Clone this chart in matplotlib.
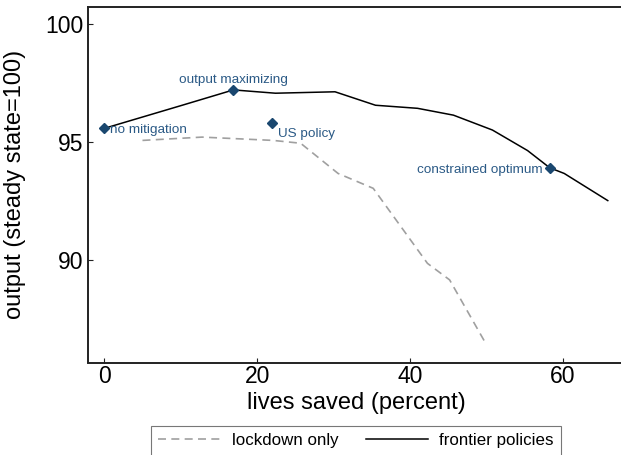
import matplotlib
matplotlib.use('Agg')
import matplotlib.pyplot as plt

plt.rcParams['font.family'] = ['Liberation Sans', 'DejaVu Sans']

# frontier policies (solid black)
frontier_x = [0.0, 10.2, 16.9, 22.4, 30.2, 35.5, 41.0, 45.7, 50.8, 55.4, 58.3, 60.2, 65.9]
frontier_y = [95.59, 96.57, 97.22, 97.08, 97.14, 96.57, 96.44, 96.15, 95.52, 94.65, 93.92, 93.68, 92.53]

# lockdown only (dashed grey)
lockdown_x = [5.0, 12.8, 22.1, 25.7, 30.6, 35.2, 42.3, 45.2, 49.8]
lockdown_y = [95.08, 95.22, 95.08, 94.96, 93.68, 93.05, 89.87, 89.17, 86.55]

# labelled policies
point_names = ['no mitigation', 'output maximizing', 'US policy', 'constrained optimum']
point_x = [0.0, 16.9, 21.9, 58.3]
point_y = [95.59, 97.22, 95.80, 93.92]

xticks = [0, 20, 40, 60]
yticks = [90, 95, 100]

navy = '#1a476f'

fig = plt.figure(figsize=(6.21, 4.55), dpi=100)
ax = fig.add_axes([88 / 621, 1 - 362.5 / 455, 1 - 88 / 621, (362.5 - 7.3) / 455])

ax.plot(lockdown_x, lockdown_y, color='#a0a0a0', lw=1.2, dashes=(4.8, 3.2),
        label='lockdown only')
ax.plot(frontier_x, frontier_y, color='black', lw=1.1, label='frontier policies')
ax.plot(point_x, point_y, linestyle='none', marker='D', ms=5.3, color=navy)

# text positions around each marker (offset in points)
offsets = {
    'no mitigation': ((4.4, -3.2), 'left', 'baseline'),
    'output maximizing': ((0, 5.0), 'center', 'baseline'),
    'US policy': ((4.6, -10.0), 'left', 'baseline'),
    'constrained optimum': ((-5.0, -3.6), 'right', 'baseline'),
}
for name, px, py in zip(point_names, point_x, point_y):
    off, ha, va = offsets[name]
    ax.annotate(name, (px, py), xytext=off, textcoords='offset points',
                ha=ha, va=va, fontsize=9.7, color='#2b5a86')

ax.set_xlim(-2.13, 67.63)
ax.set_ylim(85.67, 100.72)
ax.set_xticks(xticks)
ax.set_yticks(yticks)
ax.tick_params(direction='in', length=3.6, width=0.8, labelsize=16.5, color='#222222')
ax.tick_params(axis='x', pad=2)
ax.tick_params(axis='y', pad=3.5)

for side in ['left', 'bottom', 'top']:
    ax.spines[side].set_linewidth(1.4)
    ax.spines[side].set_color('#222222')
ax.spines['right'].set_visible(False)

ax.set_xlabel('lives saved (percent)', fontsize=17)
ax.set_ylabel('output (steady state=100)', fontsize=17)
ax.xaxis.set_label_coords(0.5036, -0.083)
ax.yaxis.set_label_coords(-0.116, 0.5)

fig.legend(loc='upper center', bbox_to_anchor=(356 / 621, 1 - 425.7 / 455), ncol=2,
           fontsize=12.2, frameon=True, fancybox=False, edgecolor='#555555',
           handlelength=3.7, handletextpad=0.65, columnspacing=1.6,
           borderpad=0.45, borderaxespad=0).get_frame().set_linewidth(0.8)

fig.savefig('out.png', dpi=100)
